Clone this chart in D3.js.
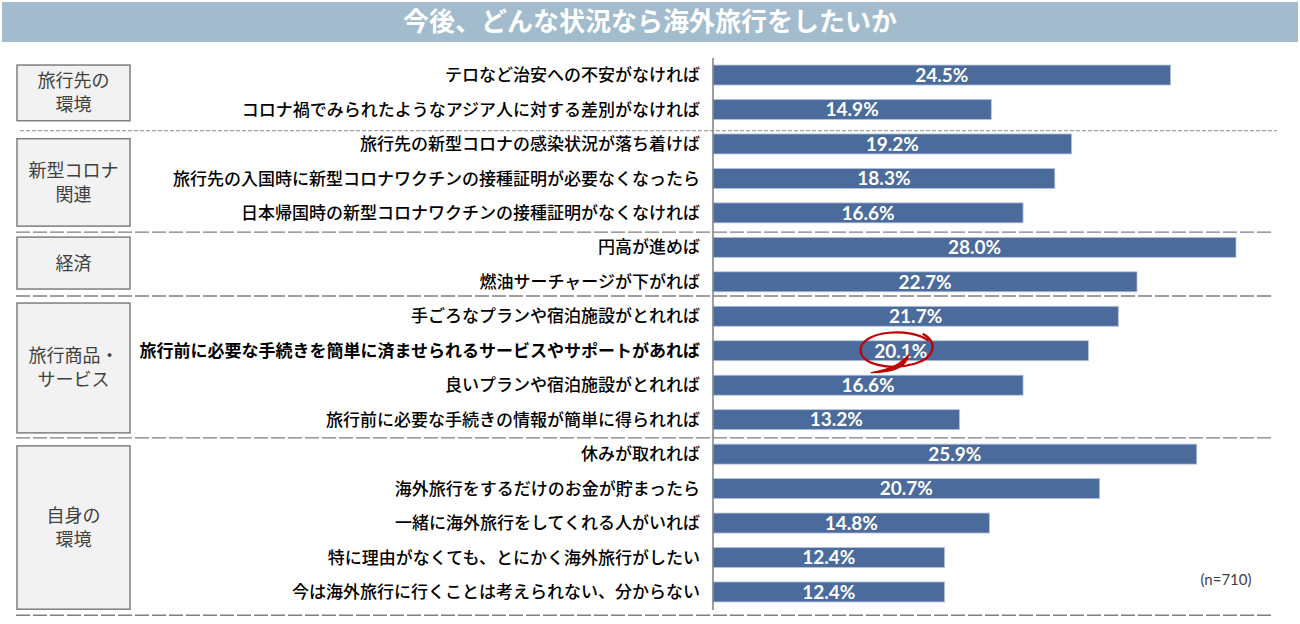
<!DOCTYPE html>
<html><head><meta charset="utf-8">
<script src="https://cdn.jsdelivr.net/npm/d3@7/dist/d3.min.js"></script>
<style>
html,body{margin:0;padding:0;background:#fff;}
svg{display:block;}
</style></head>
<body>
<svg id="chart" width="1300" height="624"></svg>
<script>
const title = "今後、どんな状況なら海外旅行をしたいか";
const categories = [
  "テロなど治安への不安がなければ",
  "コロナ禍でみられたようなアジア人に対する差別がなければ",
  "旅行先の新型コロナの感染状況が落ち着けば",
  "旅行先の入国時に新型コロナワクチンの接種証明が必要なくなったら",
  "日本帰国時の新型コロナワクチンの接種証明がなくなければ",
  "円高が進めば",
  "燃油サーチャージが下がれば",
  "手ごろなプランや宿泊施設がとれれば",
  "旅行前に必要な手続きを簡単に済ませられるサービスやサポートがあれば",
  "良いプランや宿泊施設がとれれば",
  "旅行前に必要な手続きの情報が簡単に得られれば",
  "休みが取れれば",
  "海外旅行をするだけのお金が貯まったら",
  "一緒に海外旅行をしてくれる人がいれば",
  "特に理由がなくても、とにかく海外旅行がしたい",
  "今は海外旅行に行くことは考えられない、分からない"
];
const values = [24.5, 14.9, 19.2, 18.3, 16.6, 28.0, 22.7, 21.7, 20.1, 16.6, 13.2, 25.9, 20.7, 14.8, 12.4, 12.4];
const groupNames = [["旅行先の","環境"],["新型コロナ","関連"],["経済"],["旅行商品・","サービス"],["自身の","環境"]];
const groupSizes = [2, 3, 2, 4, 5];
const highlightIndex = 8;
const note = "(n=710)";

const svg = d3.select("#chart");
const W = 1300, H = 624;
const x0 = 713;
const x = d3.scaleLinear().domain([0, 28]).range([x0, 1236]);
const y = d3.scaleBand().domain(d3.range(categories.length)).range([57.8, 609.2]).paddingInner(0.42).paddingOuter(0.21);
const step = y.step();

// title bar
svg.append("rect").attr("x", 2).attr("y", 2).attr("width", W - 4).attr("height", 40).attr("fill", "#a2bccd");
svg.append("text").attr("x", 650).attr("y", 31).attr("text-anchor", "middle")
  .attr("font-family", "'Noto Sans CJK JP'").attr("font-weight", "bold").attr("font-size", 26)
  .attr("fill", "#fff").text(title);

// groups
let start = 0;
const seps = [];
const sepShift = [4, 2, -3, 1, 6];
const boxInsetTop = [0, 8, 5, 7, 8];
const boxInsetBottom = [10, 6, 7, 5, 6];
groupSizes.forEach((n, gi) => {
  const top = gi === 0 ? y(0) : seps[gi - 1];
  const endIdx = start + n - 1;
  const bottom = y(endIdx) + y.bandwidth() + (step - y.bandwidth()) / 2 + sepShift[gi];
  seps.push(bottom);
  const bt = top + boxInsetTop[gi];
  const bb = bottom - boxInsetBottom[gi];
  svg.append("rect").attr("x", 17).attr("y", bt).attr("width", 113).attr("height", bb - bt)
    .attr("fill", "#f2f2f2").attr("stroke", "#7f7f7f").attr("stroke-width", 1.5);
  const lines = groupNames[gi];
  const cy = (bt + bb) / 2;
  const lh = 24;
  lines.forEach((ln, li) => {
    svg.append("text").attr("x", 73.5).attr("y", cy + (li - (lines.length - 1) / 2) * lh)
      .attr("dy", "0.36em").attr("text-anchor", "middle")
      .attr("font-family", "'Noto Sans CJK JP'").attr("font-size", 18).attr("fill", "#404040").text(ln);
  });
  start += n;
});

// separators
seps.forEach((sy, i) => {
  const first = i === 0;
  svg.append("line").attr("x1", first ? 20 : 16).attr("x2", first ? 1277 : 1274)
    .attr("y1", sy).attr("y2", sy)
    .attr("stroke", first ? "#8a8a8a" : "#7f7f7f").attr("stroke-width", first ? 1 : 1.4)
    .attr("stroke-dasharray", first ? "4,2" : "14,3");
});

// bars
svg.append("g").selectAll("rect").data(values).join("rect")
  .attr("x", x(0)).attr("y", (d, i) => y(i)).attr("width", d => x(d) - x(0)).attr("height", y.bandwidth())
  .attr("fill", "#4a6b9b").attr("stroke", "#b7c5dc").attr("stroke-width", 0.8);

// axis line
svg.append("line").attr("x1", x0).attr("x2", x0).attr("y1", 58).attr("y2", 610)
  .attr("stroke", "#7f7f7f").attr("stroke-width", 1.5);

// category labels
svg.append("g").selectAll("text").data(categories).join("text")
  .attr("x", 700).attr("y", (d, i) => y(i) + y.bandwidth() / 2).attr("dy", "0.36em")
  .attr("text-anchor", "end").attr("font-family", "'Noto Sans CJK JP'").attr("font-size", 17)
  .attr("font-weight", (d, i) => i === highlightIndex ? "bold" : 500)
  .attr("fill", "#000").text(d => d);

// value labels
svg.append("g").selectAll("text").data(values).join("text")
  .attr("x", d => (x(0) + x(d)) / 2).attr("y", (d, i) => y(i) + y.bandwidth() / 2).attr("dy", "0.36em")
  .attr("text-anchor", "middle").attr("font-family", "Lato").attr("font-weight", "bold").attr("font-size", 19)
  .attr("fill", "#fff").text(d => d.toFixed(1) + "%");

// highlight ellipse
const hx = (x(0) + x(values[highlightIndex])) / 2 - 4;
const hy = y(highlightIndex) + y.bandwidth() / 2;
svg.append("path")
  .attr("d", `M ${hx + 32} ${hy - 10} C ${hx + 14} ${hy - 24}, ${hx - 34} ${hy - 20}, ${hx - 36} ${hy - 2}
              C ${hx - 38} ${hy + 14}, ${hx - 6} ${hy + 20}, ${hx + 18} ${hy + 13}
              C ${hx + 38} ${hy + 7}, ${hx + 42} ${hy - 8}, ${hx + 26} ${hy - 17}`)
  .attr("fill", "none").attr("stroke", "#c00000").attr("stroke-width", 2.2);
svg.append("path")
  .attr("d", `M ${hx + 12} ${hy + 4} C ${hx + 10} ${hy + 18}, ${hx - 8} ${hy + 22}, ${hx - 26} ${hy + 22}
              C ${hx - 4} ${hy + 18}, ${hx + 4} ${hy + 13}, ${hx + 12} ${hy + 4}`)
  .attr("fill", "#c00000").attr("stroke", "#c00000").attr("stroke-width", 1.2);

// note
svg.append("text").attr("x", 1226).attr("y", 580).attr("dy", "0.36em").attr("text-anchor", "middle")
  .attr("font-family", "Lato").attr("font-size", 15).attr("fill", "#404040").text(note);
</script>
</body></html>
